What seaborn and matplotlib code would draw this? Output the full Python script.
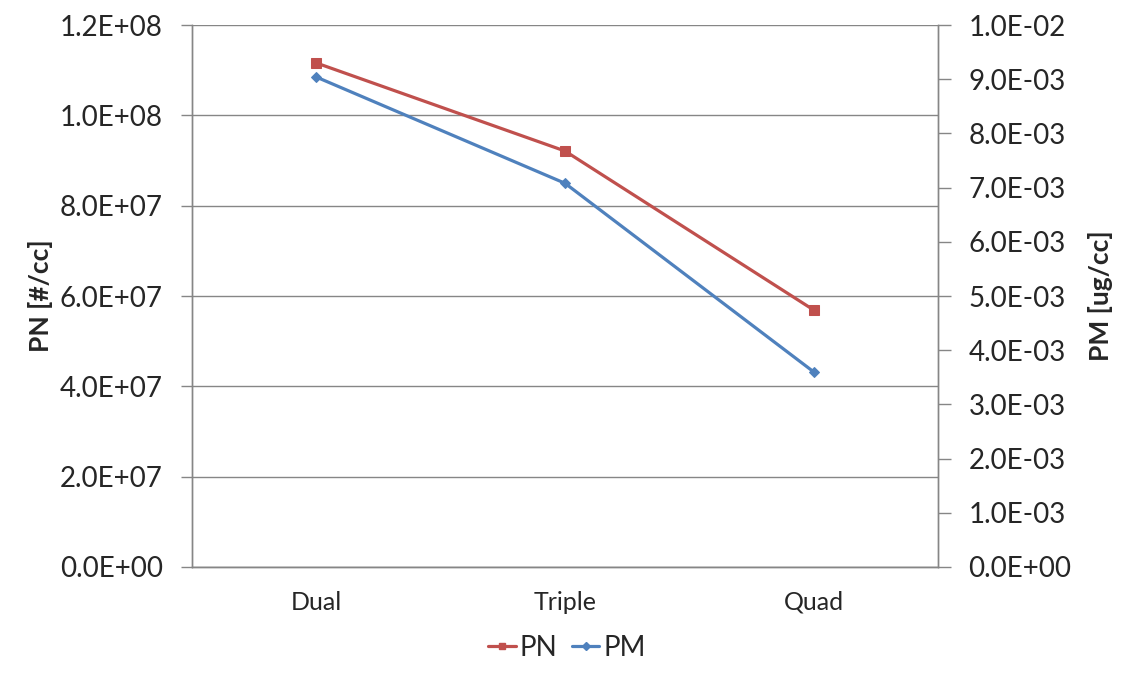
import matplotlib
matplotlib.use("Agg")
import matplotlib.pyplot as plt
import seaborn as sns
import pandas as pd
from matplotlib.lines import Line2D
from matplotlib.ticker import FuncFormatter, MultipleLocator, FixedLocator

categories = ["Dual", "Triple", "Quad"]
pn_values = [1.116e8, 9.21e7, 5.69e7]
pm_values = [9.04e-3, 7.08e-3, 3.60e-3]

sns.set_theme(style="white")
plt.rcParams['font.family'] = ['Lato', 'DejaVu Sans']

df = pd.DataFrame({"cat": categories, "x": range(len(categories)), "PN": pn_values, "PM": pm_values})

fig = plt.figure(figsize=(11.34, 6.8), dpi=100)
ax = fig.add_axes([0.1693, 0.1662, 0.6579, 0.797])
ax2 = ax.twinx()

red = "#C0504D"
blue = "#4F81BD"
grid_c = "#868686"

sns.lineplot(data=df, x="x", y="PN", ax=ax, color=red, marker="s", markersize=7.5,
             linewidth=2.3, markeredgecolor=red, label="PN", legend=False)
sns.lineplot(data=df, x="x", y="PM", ax=ax2, color=blue, marker="D", markersize=5.5,
             linewidth=2.3, markeredgecolor=blue, label="PM", legend=False)

ax.set_xlim(-0.5, 2.5)
ax.set_ylim(0, 1.2e8)
ax2.set_ylim(0, 1.0e-2)
ax.yaxis.set_major_locator(MultipleLocator(2e7))
ax2.yaxis.set_major_locator(MultipleLocator(1e-3))

ax.yaxis.set_major_formatter(FuncFormatter(lambda v, p: "%.1E" % v))
ax2.yaxis.set_major_formatter(FuncFormatter(lambda v, p: "%.1E" % v))

ax.set_xticks(range(len(categories)))
ax.set_xticklabels(categories, fontsize=18)
ax.xaxis.set_minor_locator(FixedLocator([-0.5, 0.5, 1.5, 2.5]))
ax.tick_params(axis="x", which="major", length=0, pad=17)
ax.tick_params(axis="x", which="minor", length=7, color=grid_c, width=1, direction="out")
ax.tick_params(axis="y", length=8, color=grid_c, width=1, direction="out", labelsize=20, left=True, pad=13)
ax2.tick_params(axis="y", length=9, color=grid_c, width=1, direction="out", labelsize=20, right=True, pad=13)

ax.grid(axis="y", color=grid_c, linewidth=1)
ax.set_axisbelow(True)
ax.set_xlabel("")
ax.set_ylabel("PN [#/cc]", fontsize=19, fontweight="bold", labelpad=5)
ax2.set_ylabel("PM [ug/cc]", fontsize=19, fontweight="bold", labelpad=12)

for a in (ax, ax2):
    a.spines["top"].set_visible(False)
    for s in ("left", "right", "bottom"):
        a.spines[s].set_color(grid_c)
        a.spines[s].set_linewidth(1)
ax.set_facecolor("white")

handles = [
    Line2D([], [], color=red, marker="s", markersize=5, linewidth=2.3, markeredgecolor=red),
    Line2D([], [], color=blue, marker="D", markersize=4, linewidth=2.3, markeredgecolor=blue),
]
fig.legend(handles, ["PN", "PM"], loc="center", bbox_to_anchor=(0.5, 0.047), ncol=2,
           frameon=False, fontsize=20, handlelength=1.0, handletextpad=0.15, columnspacing=0.5)

fig.savefig("out.png", dpi=100, facecolor="white")
